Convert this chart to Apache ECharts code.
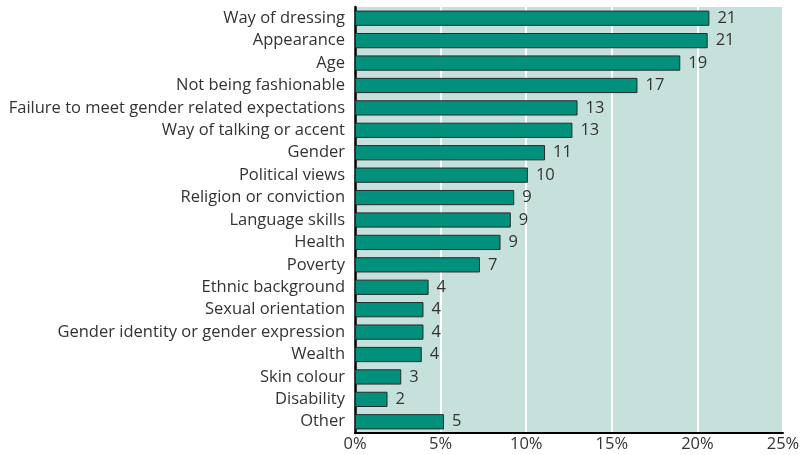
<!DOCTYPE html>
<html>
<head>
<meta charset="utf-8">
<script src="https://cdn.jsdelivr.net/npm/echarts@6/dist/echarts.min.js"></script>
<style>
  html, body { margin: 0; padding: 0; background: #ffffff; }
  #chart { width: 803px; height: 455px; }
</style>
</head>
<body>
<div id="chart"></div>
<script>
// Reasons given, top to bottom
const categories = [
  'Way of dressing',
  'Appearance',
  'Age',
  'Not being fashionable',
  'Failure to meet gender related expectations',
  'Way of talking or accent',
  'Gender',
  'Political views',
  'Religion or conviction',
  'Language skills',
  'Health',
  'Poverty',
  'Ethnic background',
  'Sexual orientation',
  'Gender identity or gender expression',
  'Wealth',
  'Skin colour',
  'Disability',
  'Other'
];

// Share of respondents, percent
const shares = [20.7, 20.6, 19.0, 16.5, 13.0, 12.7, 11.1, 10.1, 9.3, 9.1, 8.5, 7.3, 4.3, 4.0, 4.0, 3.9, 2.7, 1.9, 5.2];

const xTicks = [0, 5, 10, 15, 20, 25];

const FONT = '"Open Sans", sans-serif';
const TEXT = '#333333';
const SIZE = 16.5;

const chart = echarts.init(document.getElementById('chart'), null, { renderer: 'canvas' });

chart.setOption({
  animation: false,
  grid: {
    left: 355,
    right: 20,
    top: 7,
    bottom: 22,
    show: true,
    backgroundColor: '#c6e1dc',
    borderWidth: 0
  },
  xAxis: {
    type: 'value',
    min: xTicks[0],
    max: xTicks[xTicks.length - 1],
    interval: 5,
    axisLine: { show: true, onZero: false, lineStyle: { color: '#000000', width: 2 } },
    axisTick: { show: false },
    splitArea: { show: false },
    splitLine: { show: true, lineStyle: { color: '#ffffff', width: 2 } },
    axisLabel: {
      color: TEXT,
      fontFamily: FONT,
      fontSize: SIZE,
      margin: 3,
      formatter: v => v + '%'
    }
  },
  yAxis: {
    type: 'category',
    inverse: true,
    data: categories,
    axisLine: { show: true, lineStyle: { color: '#000000', width: 2.5 } },
    axisTick: { show: false },
    splitArea: { show: false },
    splitLine: { show: false },
    axisLabel: {
      color: TEXT,
      fontFamily: FONT,
      fontSize: SIZE,
      margin: 10
    }
  },
  series: [{
    type: 'bar',
    data: shares,
    barCategoryGap: '32%',
    itemStyle: {
      color: '#00907c',
      borderColor: '#2a2a2a',
      borderWidth: 1
    },
    label: {
      show: true,
      position: 'right',
      distance: 8,
      color: TEXT,
      fontFamily: FONT,
      fontSize: SIZE,
      formatter: p => Math.round(p.value)
    }
  }]
});
</script>
</body>
</html>
